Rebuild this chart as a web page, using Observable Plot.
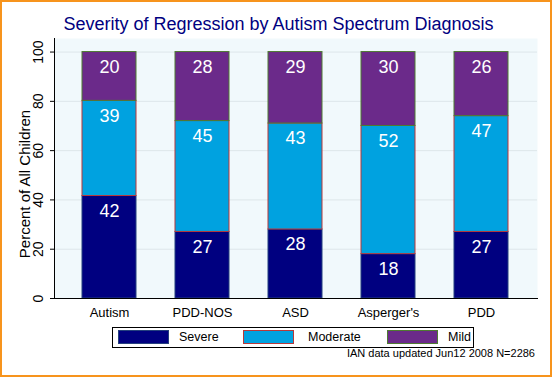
<!DOCTYPE html>
<html>
<head>
<meta charset="utf-8">
<script src="https://cdn.jsdelivr.net/npm/d3@7"></script>
<script src="https://cdn.jsdelivr.net/npm/@observablehq/plot@0.6"></script>
<style>
  html, body { margin: 0; padding: 0; background: #ffffff; }
  body { width: 553px; height: 381px; overflow: hidden; font-family: "Liberation Sans", Arial, sans-serif; }
  #wrap { position: relative; width: 553px; height: 381px; background: #ffffff; }
  #border { position: absolute; left: 0; top: 0; width: 552px; height: 377px; box-sizing: border-box; border: 2px solid #F7941D; pointer-events: none; }
  #chart { position: absolute; left: 0; top: 0; }
  #title { position: absolute; left: 0; width: 557px; top: 14px; text-align: center; font-size: 18px; line-height: 20px; color: #000080; white-space: nowrap; }
  #ytitle { position: absolute; left: 25px; top: 184px; transform: translate(-50%, -50%) rotate(-90deg); font-size: 15px; line-height: 16px; color: #000; white-space: nowrap; }
  #legend { position: absolute; left: 112px; top: 327px; width: 362px; height: 21px; box-sizing: border-box; border: 1px solid #000; background: #fff; }
  .sw { position: absolute; top: 2px; width: 51px; height: 14px; box-sizing: border-box; border: 1px solid; }
  .lt { position: absolute; top: 1px; font-size: 12.5px; line-height: 16px; color: #000; white-space: nowrap; }
  #note { position: absolute; right: 18px; top: 347px; font-size: 11px; line-height: 13px; color: #000; white-space: nowrap; }
</style>
</head>
<body>
<div id="wrap">
  <div id="chart"></div>
  <div id="title"></div>
  <div id="ytitle"></div>
  <div id="legend"></div>
  <div id="note"></div>
  <div id="border"></div>
</div>
<script>
// ---- data ----
const categories = ["Autism", "PDD-NOS", "ASD", "Asperger's", "PDD"];
const levels = ["Severe", "Moderate", "Mild"];
const severe = [42, 27, 28, 18, 27];
const moderate = [39, 45, 43, 52, 47];
const mild = [20, 28, 29, 30, 26];
const yTicks = [0, 20, 40, 60, 80, 100];
const titleText = "Severity of Regression by Autism Spectrum Diagnosis";
const yTitle = "Percent of All Children";
const noteText = "IAN data updated Jun12 2008 N=2286";

// ---- styles ----
const fillColors = {Severe: "#000080", Moderate: "#00A2E0", Mild: "#6B2A8A"};
const strokeColors = {Severe: "#24407E", Moderate: "#B8393A", Mild: "#4E7A32"};

const series = {Severe: severe, Moderate: moderate, Mild: mild};
const rows = [];
categories.forEach((c, i) => {
  const total = severe[i] + moderate[i] + mild[i];
  levels.forEach(l => {
    rows.push({cat: c, level: l, value: series[l][i], pct: series[l][i] / total * 100});
  });
});

const plot = Plot.plot({
  width: 553,
  height: 325,
  marginLeft: 54,
  marginRight: 16,
  marginTop: 38,
  marginBottom: 27,
  style: {fontFamily: "'Liberation Sans', Arial, sans-serif", fontSize: "13px", background: "transparent", color: "#000"},
  x: {domain: categories, paddingInner: 0.415, paddingOuter: 0.277, label: null},
  y: {domain: [0, 105.5], label: null},
  color: {type: "identity"},
  marks: [
    Plot.frame({fill: "#F1F9FC", stroke: null}),
    Plot.gridY(yTicks.filter(d => d > 0), {stroke: "#DDE6EA", strokeOpacity: 1}),
    Plot.barY(rows, Plot.stackY({
      x: "cat", y: "pct",
      fill: d => fillColors[d.level],
      stroke: d => strokeColors[d.level],
      strokeWidth: 1
    })),
    Plot.text(rows, Plot.stackY2({
      x: "cat", y: "pct", text: "value",
      fill: "white", fontSize: 18, dy: 15, lineAnchor: "middle"
    })),
    Plot.axisY({ticks: yTicks, tickSize: 4, tickPadding: 8, tickRotate: -90, label: null, fontSize: 14}),
    Plot.axisX({tickSize: 0, tickPadding: 9, label: null, fontSize: 13}),
    Plot.frame({anchor: "left", stroke: "#000"}),
    Plot.frame({anchor: "bottom", stroke: "#000"})
  ]
});
document.getElementById("chart").appendChild(plot);

document.getElementById("title").textContent = titleText;
document.getElementById("ytitle").textContent = yTitle;
document.getElementById("note").textContent = noteText;

// legend
const legend = document.getElementById("legend");
const swLeft = [5, 130, 274];
const txLeft = [66, 195, 335];
levels.forEach((l, i) => {
  const sw = document.createElement("div");
  sw.className = "sw";
  sw.style.left = swLeft[i] + "px";
  sw.style.background = fillColors[l];
  sw.style.borderColor = strokeColors[l];
  legend.appendChild(sw);
  const t = document.createElement("div");
  t.className = "lt";
  t.style.left = txLeft[i] + "px";
  t.textContent = l;
  legend.appendChild(t);
});
</script>
</body>
</html>
